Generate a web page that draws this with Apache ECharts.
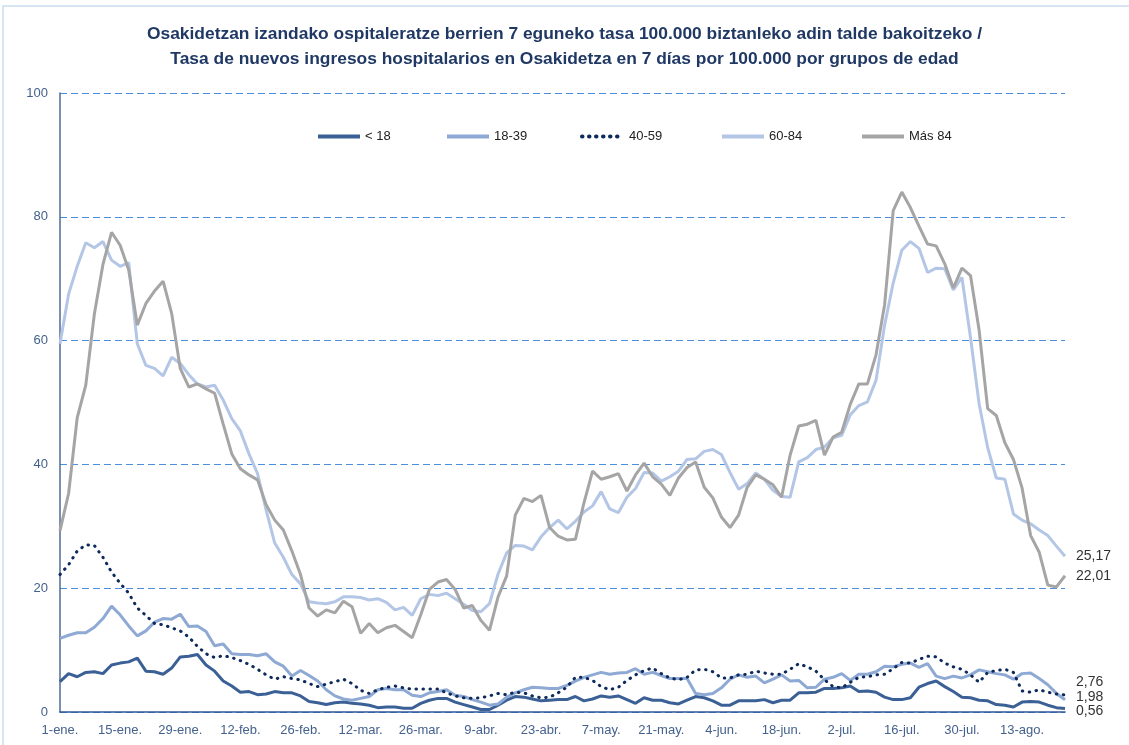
<!DOCTYPE html>
<html>
<head>
<meta charset="utf-8">
<script src="https://cdn.jsdelivr.net/npm/echarts@6/dist/echarts.min.js"></script>
<style>
  html, body { margin: 0; padding: 0; background: #fff; }
  #chart { width: 1129px; height: 745px; }
</style>
</head>
<body>
<div id="chart"></div>
<script>
// fechas: cada 2 días desde el 1 de enero de 2021
const inicio = new Date(2021, 0, 1);
const pasoDias = 2;
const meses = ['ene', 'feb', 'mar', 'abr', 'may', 'jun', 'jul', 'ago'];
const nombres = ['< 18', '18-39', '40-59', '60-84', 'Más 84'];

const menor18 = [4.9, 6.2, 5.7, 6.4, 6.5, 6.2, 7.6, 7.9, 8.1, 8.7, 6.6, 6.5, 6.1, 7.1, 8.9, 9, 9.3, 7.6, 6.6, 5,
  4.2, 3.2, 3.3, 2.8, 2.9, 3.3, 3.1, 3.1, 2.6, 1.7, 1.5, 1.2, 1.5, 1.6, 1.4, 1.3, 1.1, 0.7, 0.8, 0.8,
  0.6, 0.6, 1.4, 1.9, 2.2, 2.2, 1.6, 1.2, 0.8, 0.4, 0.4, 1.1, 1.9, 2.5, 2.4, 2.1, 1.8, 1.9, 2, 2,
  2.5, 1.8, 2.1, 2.6, 2.4, 2.6, 2, 1.4, 2.3, 1.9, 1.9, 1.5, 1.3, 1.9, 2.5, 2.3, 1.8, 1.1, 1.1, 1.8,
  1.8, 1.8, 2, 1.5, 1.9, 1.9, 3.1, 3.1, 3.2, 3.8, 3.8, 3.9, 4.2, 3.3, 3.4, 3.2, 2.4, 2, 2, 2.3,
  4, 4.6, 5, 4.1, 3.3, 2.4, 2.3, 1.9, 1.8, 1.2, 1.1, 0.8, 1.6, 1.7, 1.6, 1.1, 0.7, 0.56];

const de18a39 = [11.9, 12.4, 12.8, 12.8, 13.7, 15.1, 17.1, 15.7, 13.9, 12.3, 13.1, 14.5, 15.1, 15, 15.8, 13.8, 13.9, 13, 10.7, 11,
  9.4, 9.3, 9.3, 9.1, 9.4, 8.1, 7.4, 5.8, 6.7, 5.9, 5, 3.6, 2.6, 2.1, 1.9, 2.2, 2.5, 3.6, 3.8, 3.6,
  3.6, 2.7, 2.5, 3.1, 3.3, 3.6, 2.7, 2.5, 2, 1.6, 1.1, 1.3, 2.4, 3.1, 3.6, 4, 3.9, 3.8, 3.8, 4.3,
  5, 5.6, 6, 6.4, 6.1, 6.3, 6.4, 7, 6.1, 6.4, 5.9, 5.4, 5.4, 5.4, 3, 2.8, 3, 3.9, 5.3, 6,
  5.6, 5.8, 4.7, 5.3, 6, 5, 5.1, 3.9, 4, 5.3, 5.6, 6.2, 5.1, 6.1, 6.1, 6.5, 7.4, 7.3, 7.7, 7.9,
  7.2, 7.8, 5.8, 5.4, 5.8, 5.5, 6, 6.8, 6.5, 6.2, 6, 5.3, 6.2, 6.3, 5.4, 4.4, 3, 1.98];

const de40a59 = [22.2, 23.8, 26, 27, 26.9, 25, 22.6, 20.8, 19.2, 16.8, 15.6, 14.3, 14.1, 13.6, 13.1, 12.1, 10.6, 9.4, 8.8, 9.1,
  8.8, 8.3, 7.7, 6.9, 6, 5.3, 5.7, 5.4, 5.2, 4.6, 4.1, 4.5, 4.9, 5.3, 4.6, 3.5, 3, 3.6, 4, 4.2,
  3.9, 3.7, 3.7, 3.7, 3.7, 3.1, 2.6, 2.3, 2.2, 2.3, 2.6, 3, 2.8, 3.2, 3.1, 2.6, 2.3, 2.4, 3.1, 4,
  5.6, 5.6, 5.1, 4.1, 3.6, 4, 5.1, 6, 6.7, 7.1, 6.2, 5.5, 5.2, 5.6, 6.8, 6.9, 6.5, 5.5, 5.5, 6,
  6.1, 6.6, 6.3, 6.1, 6.1, 6.9, 7.8, 7.3, 6.6, 5.2, 4.1, 3.9, 4.8, 5.6, 5.7, 6, 6.1, 7, 8, 7.9,
  8.5, 9, 8.9, 7.9, 7.3, 6.9, 6, 4.8, 6.4, 6.7, 6.9, 6.4, 3.4, 3.2, 3.6, 3.2, 2.9, 2.76];

const de60a84 = [59.5, 67.5, 72, 75.8, 75, 76, 73, 72, 72.6, 59.5, 56, 55.5, 54.3, 57.3, 56.3, 54.5, 53, 52.5, 52.8, 50.4,
  47.4, 45.4, 41.7, 38.5, 32.6, 27.3, 25, 22.2, 20.7, 17.8, 17.6, 17.5, 17.8, 18.6, 18.6, 18.5, 18.1, 18.3, 17.7, 16.5,
  16.9, 15.6, 18.3, 19, 18.8, 19.2, 18.3, 17.4, 16.4, 16.2, 17.5, 22.3, 25.7, 26.9, 26.8, 26.2, 28.3, 29.8, 31, 29.6,
  30.8, 32.3, 33.3, 35.6, 32.8, 32.2, 34.7, 36.1, 38.7, 38.6, 37.3, 38, 38.9, 40.8, 40.9, 42.1, 42.4, 41.6, 38.7, 36,
  36.9, 38.6, 37.6, 35.8, 34.8, 34.7, 40.4, 41.1, 42.4, 42.8, 44.3, 44.7, 48, 49.5, 50.1, 53.6, 62.5, 69.3, 74.6, 76,
  74.9, 71, 71.7, 71.6, 68.2, 70.2, 60.5, 49.8, 42.7, 37.8, 37.6, 32, 31, 30.4, 29.4, 28.5, 26.8, 25.17];

const mas84 = [29.3, 35.3, 47.5, 52.8, 64.3, 72.3, 77.5, 75.4, 71.4, 62.5, 66, 68, 69.6, 64.4, 55.5, 52.5, 53, 52.2, 51.5, 46.5,
  41.7, 39.3, 38.3, 37.5, 33.5, 31, 29.4, 26, 22.2, 16.8, 15.5, 16.5, 16, 17.9, 17, 12.7, 14.3, 12.8, 13.6, 14,
  13, 12, 15.7, 19.8, 21, 21.4, 19.8, 16.8, 17.2, 14.8, 13.2, 18.6, 22, 31.8, 34.5, 34, 35, 29.8, 28.4, 27.8,
  27.9, 33.8, 38.9, 37.6, 38, 38.5, 35.7, 38.3, 40.2, 38, 36.8, 35, 37.8, 39.5, 40.4, 36.3, 34.6, 31.5, 29.8, 31.8,
  36.3, 38.3, 37.6, 36.7, 34.7, 41.5, 46.2, 46.5, 47.1, 41.5, 44.4, 45.2, 49.7, 53, 53, 57.7, 65.8, 81, 84, 81.5,
  78.5, 75.6, 75.3, 72.4, 68.5, 71.7, 70.5, 61.7, 49, 47.9, 43.5, 40.8, 36.2, 28.5, 25.8, 20.5, 20.2, 22.01];

const fechas = [];
for (let i = 0; i < mas84.length; i++) {
  const d = new Date(inicio.getTime() + i * pasoDias * 86400000);
  fechas.push(d.getDate() + '-' + meses[d.getMonth()] + '.');
}

const colores = ['#3B6096', '#8EA9D3', '#0D2A5C', '#B4C6E6', '#A5A5A5'];
const desplazEtiqueta = [3, -3, -13, 0, 0];
const leyendaX = [311, 440, 575, 715, 855];
const valores = [menor18, de18a39, de40a59, de60a84, mas84];

const chart = echarts.init(document.getElementById('chart'));

const series = nombres.map((n, i) => ({
  name: n,
  type: 'line',
  data: valores[i],
  symbol: 'none',
  smooth: false,
  lineStyle: i === 2
    ? { color: colores[i], width: 3, type: [0.5, 6.5], cap: 'round' }
    : { color: colores[i], width: 3 },
  itemStyle: { color: colores[i] },
  endLabel: {
    show: true,
    distance: 11,
    offset: [0, desplazEtiqueta[i]],
    color: '#333',
    fontSize: 14,
    fontFamily: 'Liberation Sans',
    formatter: p => p.value.toFixed(2).replace('.', ',')
  }
}));

// una leyenda por serie para respetar la separación del original
const leyendas = nombres.map((n, i) => ({
  data: [n],
  left: leyendaX[i],
  top: 125,
  itemWidth: 42,
  itemHeight: 14,
  itemGap: 5,
  itemStyle: { opacity: 0 },
  lineStyle: { width: 4 },
  textStyle: { color: '#222', fontSize: 13, fontFamily: 'Liberation Sans' }
}));

chart.setOption({
  animation: false,
  backgroundColor: '#fff',
  title: {
    text: 'Osakidetzan izandako ospitaleratze berrien 7 eguneko tasa 100.000 biztanleko adin talde bakoitzeko /\nTasa de nuevos ingresos hospitalarios en Osakidetza en 7 días por 100.000 por grupos de edad',
    left: 'center',
    top: 17,
    textStyle: {
      color: '#1F3864',
      fontSize: 17.4,
      fontWeight: 'bold',
      fontFamily: 'Liberation Sans',
      lineHeight: 25
    }
  },
  graphic: [{
    type: 'rect',
    shape: { x: 3, y: 6, width: 1140, height: 760 },
    style: { fill: 'none', stroke: '#C9DCF0', lineWidth: 1.5 },
    silent: true
  }],
  legend: leyendas,
  grid: { left: 60, right: 64, top: 93, bottom: 33 },
  xAxis: {
    type: 'category',
    data: fechas,
    boundaryGap: false,
    axisLine: { lineStyle: { color: '#2F5597', width: 1.5 } },
    axisTick: { show: false },
    axisLabel: {
      interval: 6,
      color: '#44618C',
      fontSize: 13,
      fontFamily: 'Liberation Sans',
      margin: 12
    },
    splitLine: { show: false }
  },
  yAxis: {
    type: 'value',
    min: 0,
    max: 100,
    interval: 20,
    axisLine: { show: true, lineStyle: { color: '#4F6B94', width: 1.5 } },
    axisTick: { show: false },
    axisLabel: { color: '#44618C', fontSize: 13, fontFamily: 'Liberation Sans', margin: 12 },
    splitLine: { lineStyle: { color: '#4A8EDC', type: [7, 4], width: 1 } }
  },
  series: series
});
</script>
</body>
</html>
